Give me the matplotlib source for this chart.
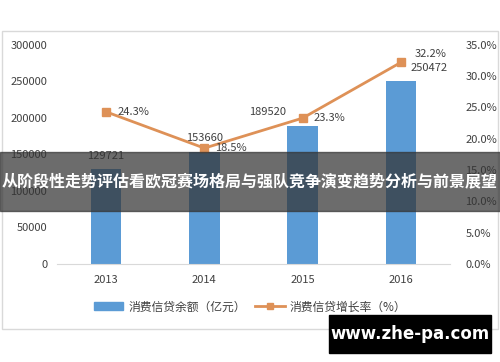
import matplotlib
matplotlib.use("Agg")
import matplotlib.pyplot as plt
from matplotlib.patches import Rectangle
from matplotlib.lines import Line2D
from matplotlib.ticker import FuncFormatter

plt.rcParams['font.family'] = ['Noto Sans CJK SC', 'DejaVu Sans']

years = ['2013', '2014', '2015', '2016']
balance = [129721, 153660, 189520, 250472]      # 亿元
growth = [24.3, 18.5, 23.3, 32.2]               # %

bar_color = '#5B9BD5'
line_color = '#DE9157'
text_color = '#404040'

fig = plt.figure(figsize=(5, 3.62), dpi=100)

# outer chart frame
fig.patches.append(Rectangle((0.004, 0.091), 0.992, 0.823, transform=fig.transFigure,
                             fill=False, edgecolor='#D9D9D9', linewidth=1, zorder=0))

ax = fig.add_axes([0.114, 0.271, 0.786, 0.605])
x = range(len(years))
ax.bar(x, balance, width=0.31, color=bar_color, zorder=2)
ax.set_xlim(-0.5, 3.5)
ax.set_ylim(0, 300000)
ax.set_yticks(range(0, 300001, 50000))
ax.set_xticks(list(x))
ax.set_xticklabels(years)
for s in ['top', 'right', 'left']:
    ax.spines[s].set_visible(False)
ax.spines['bottom'].set_color('#D9D9D9')
ax.tick_params(length=0, labelsize=8, colors=text_color, pad=8)
ax.tick_params(axis='y', pad=7)

ax2 = ax.twinx()
ax2.plot(x, growth, color=line_color, linewidth=2, marker='s', markersize=5.5, zorder=3)
ax2.set_ylim(0, 35)
ax2.set_yticks(range(0, 36, 5))
ax2.yaxis.set_major_formatter(FuncFormatter(lambda v, p: f'{v:.1f}%'))
for s in ['top', 'right', 'left', 'bottom']:
    ax2.spines[s].set_visible(False)
ax2.tick_params(length=0, labelsize=8, colors=text_color, pad=11)

# bar value labels
bar_offsets = [(0, 6), (0, 6), (-25, 6), (20, 6)]
for i, v in enumerate(balance):
    ax.annotate(str(v), (i, v), xytext=bar_offsets[i], textcoords='offset points',
                ha='center', va='bottom', fontsize=8, color=text_color)

# growth labels
line_offsets = [(8, 0), (8, 0), (8, 0), (10, 6)]
for i, g in enumerate(growth):
    ax2.annotate(f'{g}%', (i, g), xytext=line_offsets[i], textcoords='offset points',
                 ha='left', va='center', fontsize=8, color=text_color)

handles = [Rectangle((0, 0), 1, 1, color=bar_color),
           Line2D([], [], color=line_color, linewidth=2, marker='s', markersize=5)]
fig.legend(handles, ['消费信贷余额（亿元）', '消费信贷增长率（%）'], loc='center',
           bbox_to_anchor=(0.5, 0.152), ncol=2, frameon=False, fontsize=8.5,
           handlelength=2.5, columnspacing=0.8, handletextpad=0.4, labelcolor=text_color)

# title banner overlay
fig.patches.append(Rectangle((0, 0.417), 1, 0.163, transform=fig.transFigure,
                             color='#333333', alpha=0.72, zorder=10))
fig.text(0.5, 0.5, '从阶段性走势评估看欧冠赛场格局与强队竞争演变趋势分析与前景展望',
         ha='center', va='center', color='white', fontsize=11.5, fontweight='bold', zorder=11)

# watermark
fig.patches.append(Rectangle((0.658, 0.025), 0.324, 0.105, transform=fig.transFigure,
                             color='black', zorder=10))
fig.text(0.82, 0.077, 'www.zhe-pa.com', ha='center', va='center', color='white',
         fontsize=12, fontweight='bold', family='DejaVu Sans', zorder=11)

fig.savefig('out.png', dpi=100)
